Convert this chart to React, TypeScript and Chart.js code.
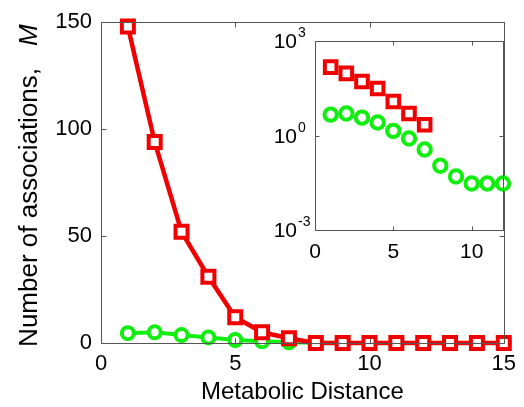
import React, { useEffect, useRef } from 'react';
import { Chart, registerables } from 'chart.js';

Chart.register(...registerables);

// ---- data ----
const distances = [1, 2, 3, 4, 5, 6, 7, 8, 9, 10, 11, 12, 13, 14, 15];
const redValues = [148, 94, 52, 31, 12, 5, 2.2, 0, 0, 0, 0, 0, 0, 0, 0];
const greenValues = [4.6, 5, 3.7, 2.6, 1.4, 0.8, 0.36, 0.11, 0.05, 0.03, 0.03, 0.03, 0.03, 0.03, 0.03];
const mainXTicks = [0, 5, 10, 15];
const mainYTicks = [0, 50, 100, 150];
const insetXTicks = [0, 5, 10];
const insetYExponents = [-3, 0, 3];
const xTitle = 'Metabolic Distance';
const yTitle = 'Number of associations,';
const yTitleSymbol = 'M';

const RED = '#f00000';
const GREEN = '#10ee10';
const FRAME = '#555555';
const FONT = '"Liberation Sans", Arial, Helvetica, sans-serif';

function framePlugin(id: string, tickLen: number, xTicks: number[], yTicks: number[]) {
  return {
    id,
    afterDatasetsDraw(chart: any) {
      const { ctx, chartArea: a, scales } = chart;
      ctx.save();
      ctx.strokeStyle = FRAME;
      ctx.lineWidth = 1;
      ctx.beginPath();
      const l = Math.round(a.left) + 0.5;
      const r = Math.round(a.right) + 0.5;
      const t = Math.round(a.top) + 0.5;
      const b = Math.round(a.bottom) + 0.5;
      ctx.rect(l, t, r - l, b - t);
      xTicks.forEach((v) => {
        const px = Math.round(scales.x.getPixelForValue(v)) + 0.5;
        ctx.moveTo(px, b);
        ctx.lineTo(px, b - tickLen);
        ctx.moveTo(px, t);
        ctx.lineTo(px, t + tickLen);
      });
      yTicks.forEach((v) => {
        const py = Math.round(scales.y.getPixelForValue(v)) + 0.5;
        ctx.moveTo(l, py);
        ctx.lineTo(l + tickLen, py);
        ctx.moveTo(r, py);
        ctx.lineTo(r - tickLen, py);
      });
      ctx.stroke();
      ctx.restore();
    },
  };
}

const mainTitles = {
  id: 'mainTitles',
  afterDraw(chart: any) {
    const { ctx, chartArea: a } = chart;
    ctx.save();
    ctx.fillStyle = '#000';
    // x title
    ctx.font = `24px ${FONT}`;
    ctx.textAlign = 'center';
    ctx.textBaseline = 'alphabetic';
    ctx.fillText(xTitle, (a.left + a.right) / 2, 399);
    // y title
    ctx.font = `26px ${FONT}`;
    const w1 = ctx.measureText(yTitle).width;
    ctx.font = `italic 26px ${FONT}`;
    const w2 = ctx.measureText(yTitleSymbol).width;
    const gap = 22;
    const total = w1 + gap + w2;
    ctx.translate(36.5, (a.top + a.bottom) / 2 + 3);
    ctx.rotate(-Math.PI / 2);
    ctx.textAlign = 'left';
    ctx.font = `26px ${FONT}`;
    ctx.fillText(yTitle, -total / 2, 0);
    ctx.font = `italic 26px ${FONT}`;
    ctx.fillText(yTitleSymbol, -total / 2 + w1 + gap, 0);
    ctx.restore();
  },
};

const insetBackground = {
  id: 'insetBg',
  beforeDraw(chart: any) {
    const { ctx, chartArea: a } = chart;
    ctx.save();
    ctx.fillStyle = '#fff';
    ctx.fillRect(a.left, a.top, a.right - a.left, a.bottom - a.top);
    ctx.restore();
  },
  afterDraw(chart: any) {
    const { ctx, scales } = chart;
    ctx.save();
    ctx.fillStyle = '#000';
    ctx.textBaseline = 'alphabetic';
    insetYExponents.forEach((e) => {
      const py = scales.y.getPixelForValue(Math.pow(10, e));
      ctx.font = `21px ${FONT}`;
      ctx.textAlign = 'right';
      ctx.fillText('10', 297, py + 7);
      ctx.font = `14px ${FONT}`;
      ctx.textAlign = 'left';
      ctx.fillText(String(e), 298, py - 4);
    });
    ctx.restore();
  },
};

export default function App() {
  const mainRef = useRef<HTMLCanvasElement | null>(null);
  const insetRef = useRef<HTMLCanvasElement | null>(null);

  useEffect(() => {
    const mainChart = new Chart(mainRef.current as HTMLCanvasElement, {
      type: 'line',
      data: {
        datasets: [
          {
            data: distances.map((x, i) => ({ x, y: redValues[i] })),
            borderColor: RED,
            backgroundColor: '#fff',
            borderWidth: 4.5,
            pointStyle: 'rect',
            pointRadius: 8.5,
            pointBorderWidth: 4,
            pointBorderColor: RED,
            pointBackgroundColor: '#fff',
            clip: false as any,
          },
          {
            data: distances.map((x, i) => ({ x, y: greenValues[i] })),
            borderColor: GREEN,
            backgroundColor: '#fff',
            borderWidth: 4,
            pointStyle: 'circle',
            pointRadius: 6,
            pointBorderWidth: 4,
            pointBorderColor: GREEN,
            pointBackgroundColor: '#fff',
            clip: false as any,
          },
        ],
      },
      options: {
        animation: false,
        responsive: false,
        events: [],
        layout: { padding: { left: 0, right: 16, top: 16, bottom: 0 } },
        plugins: { legend: { display: false }, tooltip: { enabled: false } },
        scales: {
          x: {
            type: 'linear',
            min: 0,
            max: 15,
            grid: { display: false, drawTicks: false },
            border: { display: false },
            ticks: { color: '#000', font: { family: FONT, size: 22 }, padding: 8 },
            afterBuildTicks: (s: any) => {
              s.ticks = mainXTicks.map((v) => ({ value: v }));
            },
            afterFit: (s: any) => {
              s.height = 64;
            },
          },
          y: {
            type: 'linear',
            min: 0,
            max: 150,
            grid: { display: false, drawTicks: false },
            border: { display: false },
            ticks: { color: '#000', font: { family: FONT, size: 22 }, padding: 9 },
            afterBuildTicks: (s: any) => {
              s.ticks = mainYTicks.map((v) => ({ value: v }));
            },
            afterFit: (s: any) => {
              s.width = 101;
            },
          },
        },
      } as any,
      plugins: [framePlugin('mainFrame', 5, mainXTicks, mainYTicks), mainTitles],
    });

    const insetMax = 12;
    const insetChart = new Chart(insetRef.current as HTMLCanvasElement, {
      type: 'line',
      data: {
        datasets: [
          {
            data: distances
              .map((x, i) => ({ x, y: redValues[i] > 0 ? redValues[i] : null }))
              .filter((p) => p.x <= insetMax && p.y !== null),
            showLine: false,
            pointStyle: 'rect',
            pointRadius: 8.2,
            pointBorderWidth: 4,
            pointBorderColor: RED,
            pointBackgroundColor: '#fff',
            clip: false as any,
          },
          {
            data: distances
              .map((x, i) => ({ x, y: greenValues[i] > 0 ? greenValues[i] : null }))
              .filter((p) => p.x <= insetMax && p.y !== null),
            showLine: false,
            pointStyle: 'circle',
            pointRadius: 6.2,
            pointBorderWidth: 4,
            pointBorderColor: GREEN,
            pointBackgroundColor: '#fff',
            clip: false as any,
          },
        ],
      },
      options: {
        animation: false,
        responsive: false,
        events: [],
        layout: { padding: { left: 315, right: 21, top: 41, bottom: 0 } },
        plugins: { legend: { display: false }, tooltip: { enabled: false } },
        scales: {
          x: {
            type: 'linear',
            min: 0,
            max: insetMax,
            grid: { display: false, drawTicks: false },
            border: { display: false },
            ticks: { color: '#000', font: { family: FONT, size: 21 }, padding: 10 },
            afterBuildTicks: (s: any) => {
              s.ticks = insetXTicks.map((v) => ({ value: v }));
            },
            afterFit: (s: any) => {
              s.height = 177;
            },
          },
          y: {
            type: 'logarithmic',
            display: false,
            min: 1e-3,
            max: 1e3,
          },
        },
      } as any,
      plugins: [
        insetBackground,
        framePlugin('insetFrame', 4, insetXTicks, insetYExponents.map((e) => Math.pow(10, e))),
      ],
    });

    return () => {
      mainChart.destroy();
      insetChart.destroy();
    };
  }, []);

  return (
    <div style={{ position: 'fixed', left: 0, top: 0, width: 524, height: 407, background: '#fff' }}>
      <canvas ref={mainRef} width={524} height={407} style={{ position: 'absolute', left: 0, top: 0 }} />
      <canvas ref={insetRef} width={524} height={407} style={{ position: 'absolute', left: 0, top: 0 }} />
    </div>
  );
}
